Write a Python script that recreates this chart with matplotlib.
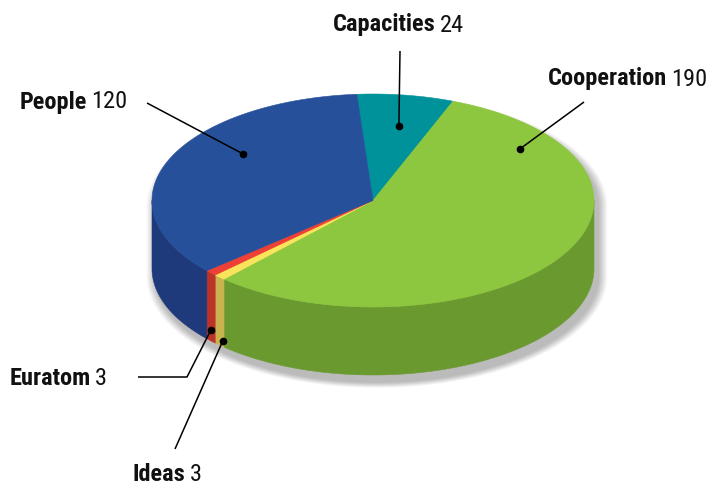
import numpy as np
import matplotlib
matplotlib.use('Agg')
import matplotlib.pyplot as plt
from matplotlib.patches import Polygon
from matplotlib import font_manager

# ---------------- data ----------------
categories = ['Capacities', 'Cooperation', 'Ideas', 'Euratom', 'People']
values = [24, 190, 3, 3, 120]
top_colors = ['#00929B', '#8DC63F', '#F9E45B', '#EE4035', '#27509B']
side_colors = ['#007A82', '#6A9A2F', '#C9B34E', '#BD3327', '#1E3A7B']

# ---------------- layout ----------------
W, H = 709, 485
CX, CY, RX, RY, DEPTH = 373, 201.5, 221, 106.5, 68
START = -4.2  # degrees, clockwise from top

available = {f.name for f in font_manager.fontManager.ttflist}
candidates = ['Roboto Condensed', 'Archivo Narrow', 'Barlow Condensed', 'Sofia Sans Condensed',
              'Liberation Sans Narrow', 'Roboto']
family = [c for c in candidates if c in available][:1] + ['DejaVu Sans']
plt.rcParams['font.family'] = family

fig = plt.figure(figsize=(W / 100, H / 100), dpi=100)
ax = fig.add_axes([0, 0, 1, 1])
ax.set_xlim(0, W)
ax.set_ylim(H, 0)
ax.axis('off')


def pt(t_deg, r=1.0, dz=0.0):
    t = np.radians(t_deg)
    return CX + RX * r * np.sin(t), CY - RY * r * np.cos(t) + dz


frac = np.array(values, dtype=float) / sum(values)
edges = START + 360 * np.concatenate([[0], np.cumsum(frac)])

# ---------------- soft shadow ----------------
ts_up = np.linspace(-90, 90, 200)
ts_dn = np.linspace(90, 270, 200)
sil = np.array([pt(t) for t in ts_up] + [pt(t, dz=DEPTH) for t in ts_dn])
for k in range(12, 0, -1):
    s = 1 + k * 0.0035
    xs = CX + (sil[:, 0] - CX) * s + 4
    ys = (CY + DEPTH / 2) + (sil[:, 1] - (CY + DEPTH / 2)) * s + 7
    ax.add_patch(Polygon(np.column_stack([xs, ys]), closed=True,
                         facecolor='black', edgecolor='none', alpha=0.025, zorder=1))

# ---------------- side walls ----------------
for i in range(len(values)):
    a, b = edges[i], edges[i + 1]
    lo, hi = max(a, 90), min(b, 270)
    if lo < hi:
        ts = np.linspace(lo, hi, 120)
        top = [pt(t) for t in ts]
        bot = [pt(t, dz=DEPTH) for t in ts[::-1]]
        ax.add_patch(Polygon(top + bot, closed=True, facecolor=side_colors[i],
                             edgecolor=side_colors[i], lw=0.4, zorder=2))

# ---------------- top faces ----------------
for i in range(len(values)):
    a, b = edges[i], edges[i + 1]
    ts = np.linspace(a, b, max(4, int((b - a) * 2)))
    poly = [(CX, CY)] + [pt(t) for t in ts]
    ax.add_patch(Polygon(poly, closed=True, facecolor=top_colors[i],
                         edgecolor=top_colors[i], lw=0.4, zorder=3))

# ---------------- labels ----------------
label_cfg = {
    'Capacities': dict(tx=333, ty=25, ang=9.5, r=0.71, dz=0, path=[(400, 52)]),
    'Cooperation': dict(tx=548, ty=79, ang=54, r=0.82, dz=0, path=[(584, 103)]),
    'People': dict(tx=20, ty=102, ang=306.6, r=0.73, dz=0, path=[(147, 104)]),
    'Euratom': dict(tx=10, ty=379, ang=None, off=0.0, r=1.0, dz=57, path=[(138, 378), (187, 378)]),
    'Ideas': dict(tx=133, ty=475, ang=None, off=-1.2, r=1.0, dz=62, path=[(175, 450)]),
}

renderer = fig.canvas.get_renderer()

# fit font size so that "Capacities 24" spans about 131 px as in the reference
probe_b = fig.text(0, 0, 'Capacities', fontsize=20, fontweight='bold')
probe_n = fig.text(0, 0, '24', fontsize=20)
wprobe = probe_b.get_window_extent(renderer).width + probe_n.get_window_extent(renderer).width + 5
probe_b.remove()
probe_n.remove()
FS = 20 * 131 / wprobe

for i, name in enumerate(categories):
    cfg = label_cfg[name]
    if cfg['ang'] is not None:
        ang = cfg['ang']
    else:
        ang = (edges[i] + edges[i + 1]) / 2 + cfg['off']
    dx, dy = pt(ang, cfg['r'], cfg['dz'])
    pts = cfg['path'] + [(dx, dy)]
    xs, ys = zip(*pts)
    ax.plot(xs, ys, color='black', lw=1.1, zorder=5, solid_capstyle='butt')
    ax.plot([dx], [dy], 'o', color='black', ms=4.5, zorder=6)
    t1 = ax.text(cfg['tx'], cfg['ty'], name, fontsize=FS, fontweight='bold',
                 ha='left', va='center', color='#111111', zorder=7)
    bb = t1.get_window_extent(renderer=renderer)
    x_end = ax.transData.inverted().transform((bb.x1, 0))[0]
    ax.text(x_end + 4, cfg['ty'], str(values[i]), fontsize=FS,
            ha='left', va='center', color='#111111', zorder=7)

fig.savefig('out.png', dpi=100)
